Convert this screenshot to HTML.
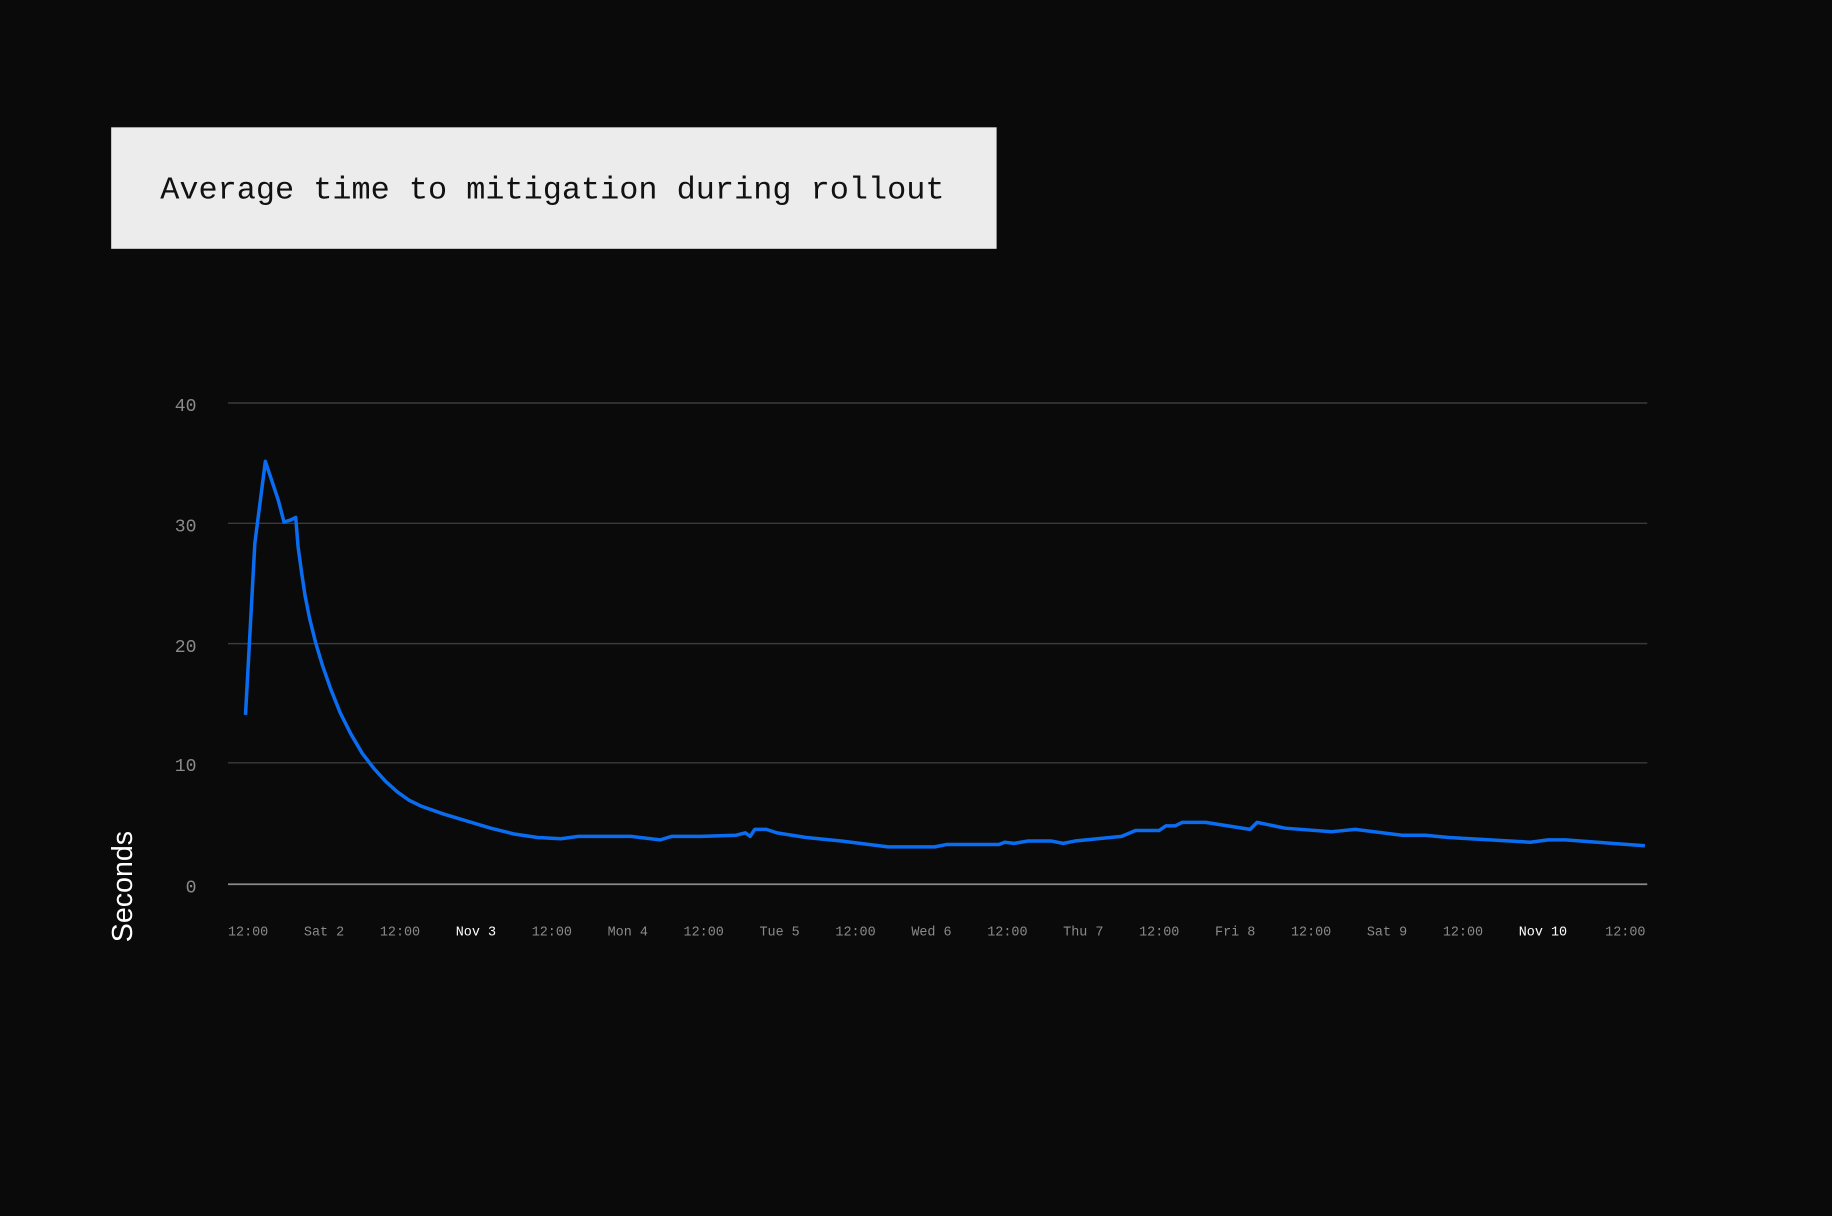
<!DOCTYPE html>
<html><head><meta charset="utf-8"><style>
html,body{margin:0;padding:0;background:#0a0a0a;}
svg{display:block;}
</style></head><body>
<svg width="1832" height="1216" viewBox="0 0 1568 1041" xmlns="http://www.w3.org/2000/svg">
<rect width="1568" height="1041" fill="#0a0a0a"/>
<rect x="95" y="109" width="758" height="104" fill="#ececec"/>
<text x="137" y="170" font-family="Liberation Mono, monospace" font-size="27.3" fill="#111">Average time to mitigation during rollout</text>
<g stroke="#3a3a3a" stroke-width="1.2">
<line x1="195" y1="345" x2="1410" y2="345"/>
<line x1="195" y1="448" x2="1410" y2="448"/>
<line x1="195" y1="551" x2="1410" y2="551"/>
<line x1="195" y1="653" x2="1410" y2="653"/>
</g>
<line x1="195" y1="757" x2="1410" y2="757" stroke="#8a8a8a" stroke-width="1.5"/>
<g font-family="Liberation Mono, monospace" font-size="15.5" fill="#8a8a8a" text-anchor="end">
<text x="168" y="352">40</text><text x="168" y="455">30</text><text x="168" y="558">20</text><text x="168" y="660">10</text><text x="168" y="764">0</text>
</g>
<text transform="translate(113,759) rotate(-90)" font-family="Liberation Sans, sans-serif" font-size="24.5" fill="#fff" text-anchor="middle">Seconds</text>
<g font-family="Liberation Mono, monospace" font-size="11.5" fill="#8a8a8a">
<text x="195" y="801">12:00</text><text x="260" y="801">Sat 2</text><text x="325" y="801">12:00</text><text x="390" y="801" fill="#fff">Nov 3</text><text x="455" y="801">12:00</text><text x="520" y="801">Mon 4</text><text x="585" y="801">12:00</text><text x="650" y="801">Tue 5</text><text x="715" y="801">12:00</text><text x="780" y="801">Wed 6</text><text x="845" y="801">12:00</text><text x="910" y="801">Thu 7</text><text x="975" y="801">12:00</text><text x="1040" y="801">Fri 8</text><text x="1105" y="801">12:00</text><text x="1170" y="801">Sat 9</text><text x="1235" y="801">12:00</text><text x="1300" y="801" fill="#fff">Nov 10</text><text x="1374" y="801">12:00</text>
</g>
<polyline fill="none" stroke="#0a6cf0" stroke-width="3" stroke-linejoin="round" points="210,612 218,465 227,395 238,428 243,447 249,445 253,443 255,468 258,490 261,510 265,530 270,550 276,570 283,590 291,610 300,628 310,645 320,658 330,669 340,678 350,685 360,690 380,697 400,703 420,709 440,714 460,717 480,718 495,716 540,716 565,719 575,716 600,716 630,715 638,713 642,716 646,710 656,710 665,713 690,717 720,720 760,725 800,725 810,723 855,723 860,721 868,722 880,720 900,720 910,722 920,720 960,716 972,711 992,711 998,707 1006,707 1012,704 1032,704 1070,710 1076,704 1100,709 1140,712 1160,710 1200,715 1220,715 1240,717 1310,721 1325,719 1340,719 1380,722 1408,724"/>
</svg>
</body></html>
